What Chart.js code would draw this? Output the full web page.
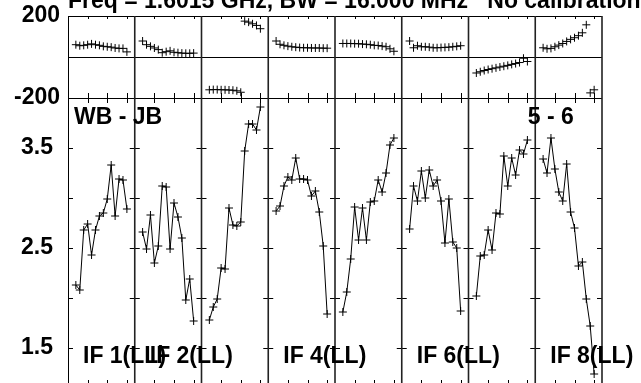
<!DOCTYPE html>
<html>
<head>
<meta charset="utf-8">
<script src="https://cdn.jsdelivr.net/npm/chart.js@4.4.0/dist/chart.umd.min.js"></script>
<style>
html, body { margin: 0; padding: 0; background: #fff; overflow: hidden; }
canvas { display: block; }
</style>
</head>
<body>
<canvas id="chart" width="641" height="400"></canvas>
<script>
// channel numbers plotted in every IF panel
const channels = [2, 3, 4, 5, 6, 7, 8, 9, 10, 11, 12, 13, 14, 15];
const ifLabels = ['IF 1(LL)', 'IF 2(LL)', '', 'IF 4(LL)', '', 'IF 6(LL)', '', 'IF 8(LL)'];

// phase (deg), one array per IF
const phase1 = [60, 55, 57, 60, 64, 60, 57, 52, 50, 48, 44, 42, 42, 25];
const phase2 = [78, 60, 52, 44, 36, 21, 26, 30, 23, 21, 19, 18, 18, 19];
const phase3 = [-160, -159, -159, -160, -160, -161, -162, -165, -172, 175, 170, 162, 154, 138];
const phase4 = [78, 62, 57, 53, 50, 48, 46, 45, 45, 44, 44, 44, 43, 43];
const phase5 = [66, 66, 66, 65, 65, 63, 62, 60, 57, 56, 53, 50, 40, 28];
const phase6 = [78, 45, 55, 50, 50, 48, 45, 45, 46, 47, 48, 50, 52, 55];
const phase7 = [-78, -72, -66, -61, -57, -53, -49, -45, -41, -36, -32, -27, -6, -22];
const phase8 = [45, 40, 42, 50, 58, 66, 76, 86, 94, 104, 118, 157, -175, -160];

// amplitude, one array per IF
const amp1 = [2.13, 2.08, 2.68, 2.74, 2.43, 2.68, 2.82, 2.85, 2.99, 3.33, 2.82, 3.19, 3.18, 2.89];
const amp2 = [2.66, 2.49, 2.83, 2.35, 2.52, 3.12, 3.11, 2.49, 2.95, 2.81, 2.60, 1.98, 2.19, 1.77];
const amp3 = [1.78, 1.91, 1.99, 2.30, 2.29, 2.90, 2.73, 2.72, 2.76, 3.47, 3.74, 3.74, 3.68, 3.91];
const amp4 = [2.87, 2.92, 3.12, 3.21, 3.18, 3.40, 3.19, 3.19, 3.18, 3.02, 3.07, 2.86, 2.52, 1.84];
const amp5 = [1.86, 2.06, 2.39, 2.91, 2.58, 2.90, 2.58, 2.96, 2.97, 3.18, 3.06, 3.25, 3.53, 3.60];
const amp6 = [2.69, 3.12, 2.97, 3.27, 3.00, 3.28, 3.12, 3.18, 2.97, 2.55, 2.99, 2.56, 2.50, 1.87];
const amp7 = [2.02, 2.42, 2.43, 2.68, 2.48, 2.85, 2.84, 3.42, 3.12, 3.40, 3.23, 3.48, 3.44, 3.58];
const amp8 = [3.39, 3.25, 3.60, 3.29, 3.06, 2.97, 3.34, 2.86, 2.70, 2.32, 2.36, 1.99, 1.72, 1.24];

const phaseTicks = [-200, 200];
const phaseTickLabels = ['-200', '200'];
const ampTicks = [1.5, 2.0, 2.5, 3.0, 3.5];
const ampTickLabels = ['1.5', '', '2.5', '', '3.5'];
const chanTicks = [5, 10, 15];

const titleText = 'Freq = 1.6015 GHz, BW = 16.000 MHz   No calibration';
const baselineText = 'WB - JB';
const pairText = '5 - 6';

const phases = [phase1, phase2, phase3, phase4, phase5, phase6, phase7, phase8];
const amps = [amp1, amp2, amp3, amp4, amp5, amp6, amp7, amp8];

const font = { family: '"Liberation Sans", Arial, Helvetica, sans-serif', size: 23, weight: 'bold' };
const fontCss = 'bold 23px "Liberation Sans", Arial, Helvetica, sans-serif';

// y axes take a fixed width and no extra room for their edge labels
const fixAxis = s => { s.width = 68; s.paddingTop = 0; s.paddingBottom = 0; };

const datasets = [];
const scales = {};
phases.forEach((ph, i) => {
    const xid = 'x' + (i + 1);
    scales[xid] = {
        type: 'linear', position: 'bottom', stack: 'ifs', stackWeight: 1,
        min: 0, max: 17,
        ticks: { display: false },
        grid: { display: false, drawTicks: false },
        border: { display: false }
    };
    datasets.push({
        xAxisID: xid, yAxisID: 'yPhase',
        data: channels.map((c, k) => ({ x: c, y: ph[k] })),
        showLine: false, pointStyle: 'cross', pointRadius: 4,
        borderColor: '#000', borderWidth: 1
    });
    datasets.push({
        xAxisID: xid, yAxisID: 'yAmp',
        data: channels.map((c, k) => ({ x: c, y: amps[i][k] })),
        showLine: true, tension: 0, pointStyle: 'cross', pointRadius: 4,
        borderColor: '#000', borderWidth: 1
    });
});

scales.yPhase = {
    type: 'linear', position: 'left', stack: 'ys', stackWeight: 82, weight: 2,
    min: -200, max: 200,
    afterBuildTicks: s => { s.ticks = phaseTicks.map(v => ({ value: v })); },
    afterFit: fixAxis,
    ticks: { autoSkip: false, padding: 8, color: '#000', font: font,
             callback: v => phaseTickLabels[phaseTicks.indexOf(v)] },
    grid: { display: false, drawTicks: false },
    border: { display: false }
};
scales.yAmp = {
    type: 'linear', position: 'left', stack: 'ys', stackWeight: 288, weight: 1,
    min: 1.12, max: 4.0,
    afterBuildTicks: s => { s.ticks = ampTicks.map(v => ({ value: v })); },
    afterFit: fixAxis,
    ticks: { autoSkip: false, padding: 15, color: '#000', font: font,
             callback: v => ampTickLabels[ampTicks.indexOf(v)] },
    grid: { display: false, drawTicks: false },
    border: { display: false }
};

// frame, inward tick marks and text of the plot
const framePlugin = {
    id: 'frame',
    afterDatasetsDraw(chart) {
        const ctx = chart.ctx;
        const yP = chart.scales.yPhase, yA = chart.scales.yAmp;
        const area = chart.chartArea;
        const px = v => Math.round(v) + 0.5;
        ctx.save();
        ctx.strokeStyle = '#000';
        ctx.lineWidth = 1;
        ctx.beginPath();
        // horizontal frame lines and the phase zero line
        [yP.top, yP.getPixelForValue(0), yP.bottom].forEach(y => {
            ctx.moveTo(area.left, px(y)); ctx.lineTo(area.right, px(y));
        });
        ctx.moveTo(px(area.left), yP.top); ctx.lineTo(px(area.left), area.bottom + 5);
        for (let i = 0; i < 8; i++) {
            const xs = chart.scales['x' + (i + 1)];
            chanTicks.forEach(c => {
                const x = px(xs.getPixelForValue(c));
                ctx.moveTo(x, yP.top); ctx.lineTo(x, yP.top + 3);
                ctx.moveTo(x, yP.bottom - 5); ctx.lineTo(x, yP.bottom + 5);
                ctx.moveTo(x, yA.bottom - 6); ctx.lineTo(x, yA.bottom);
            });
            ampTicks.forEach(v => {
                const y = px(yA.getPixelForValue(v));
                ctx.moveTo(xs.left, y); ctx.lineTo(xs.left + 5, y);
                ctx.moveTo(xs.right - 5, y); ctx.lineTo(xs.right, y);
            });
        }
        ctx.stroke();
        // panel separators
        ctx.beginPath();
        ctx.lineWidth = 1.6;
        ctx.strokeStyle = '#222';
        for (let i = 0; i < 8; i++) {
            const r = chart.scales['x' + (i + 1)].right;
            ctx.moveTo(r, yP.top); ctx.lineTo(r, area.bottom + 5);
        }
        ctx.stroke();

        ctx.fillStyle = '#000';
        ctx.font = fontCss;
        ctx.textBaseline = 'alphabetic';
        ctx.textAlign = 'left';
        ctx.fillText(titleText, area.left, 8);
        ctx.fillText(baselineText, area.left + 6, yP.bottom + 25.5);
        const x8 = chart.scales.x8;
        ctx.fillText(pairText, x8.left - 7.5, yP.bottom + 25.5);
        ifLabels.forEach((t, i) => {
            if (!t) return;
            const xs = chart.scales['x' + (i + 1)];
            ctx.fillText(t, xs.left + 15, yA.getPixelForValue(1.5) + 15);
        });
        ctx.restore();
    }
};

const ctx = document.getElementById('chart').getContext('2d');
const chart = new Chart(ctx, {
    type: 'scatter',
    data: { datasets: datasets },
    options: {
        responsive: false,
        animation: false,
        layout: { padding: { left: 0, right: 39, top: 16, bottom: 14 } },
        plugins: { legend: { display: false }, tooltip: { enabled: false } },
        scales: scales
    },
    plugins: [framePlugin]
});
</script>
</body>
</html>
